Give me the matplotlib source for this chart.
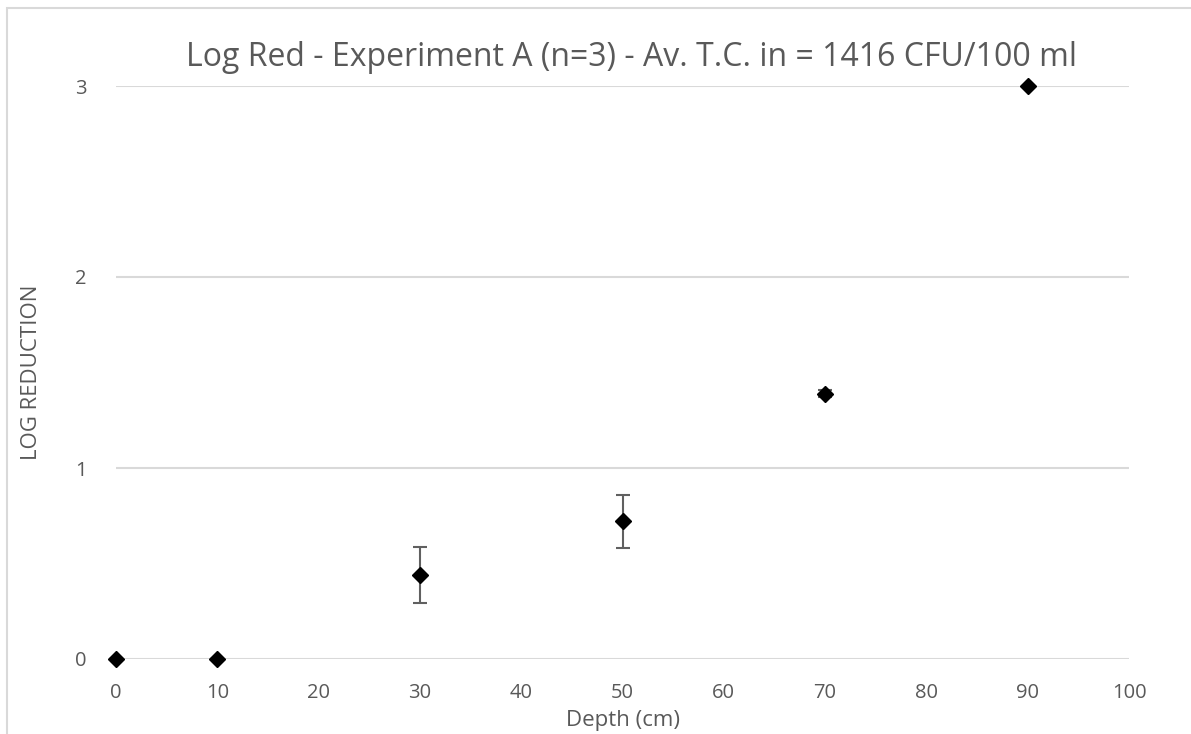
import matplotlib
matplotlib.use("Agg")
import matplotlib.pyplot as plt
from matplotlib.patches import Rectangle

plt.rcParams['font.family'] = ['Open Sans', 'DejaVu Sans']

depth_cm = [0, 10, 30, 50, 70, 90]
log_reduction = [0.0, 0.0, 0.44, 0.72, 1.39, 3.0]
std_err = [0.0, 0.0, 0.147, 0.137, 0.02, 0.0]
x_ticks = [0, 10, 20, 30, 40, 50, 60, 70, 80, 90, 100]
y_ticks = [0, 1, 2, 3]

W, H = 1191, 734
fig = plt.figure(figsize=(W / 100, H / 100), dpi=100)
fig.patch.set_facecolor('white')

# chart area frame (cut at right and bottom)
fig.add_artist(Rectangle((6.5 / W, -0.05), 1.2, 1 - 7.5 / H + 0.05,
                         transform=fig.transFigure, fill=False,
                         edgecolor='#d9d9d9', linewidth=1.5))

left, right = 116 / W, 1129 / W
bottom, top = 1 - 659 / H, 1 - 86 / H
ax = fig.add_axes([left, bottom, right - left, top - bottom])
ax.set_xlim(0, 100)
ax.set_ylim(0, 3)
ax.set_xticks(x_ticks)
ax.set_yticks(y_ticks)
for s in ax.spines.values():
    s.set_visible(False)
ax.tick_params(length=0, colors='#595959', labelsize=14.5)
ax.tick_params(axis='x', pad=17)
ax.tick_params(axis='y', pad=21)
ax.grid(axis='y', color='#d9d9d9', linewidth=1.5)
ax.set_axisbelow(True)

ax.errorbar(depth_cm, log_reduction, yerr=std_err, fmt='D', color='black',
            markersize=8, ecolor='#606060', elinewidth=1.5, capsize=5,
            capthick=1.5, clip_on=False, zorder=3)

ax.set_xlabel('Depth (cm)', color='#595959', fontsize=16, labelpad=5)
ax.set_ylabel('LOG REDUCTION', color='#595959', fontsize=16, labelpad=24)
fig.text(631 / W, 1 - 58 / H, 'Log Red - Experiment A (n=3) - Av. T.C. in = 1416 CFU/100 ml',
         ha='center', va='center', color='#595959', fontsize=23)

fig.savefig('out.png', dpi=100, facecolor='white')
